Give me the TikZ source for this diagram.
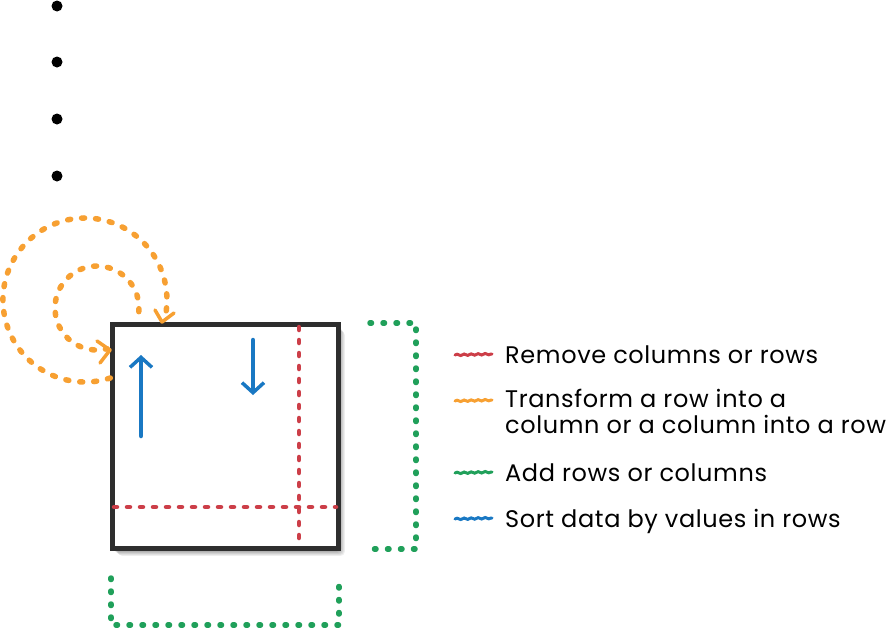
\documentclass[tikz,border=0pt]{standalone}
\usepackage{fontspec}
\setmainfont[LetterSpace=2.6]{Poppins}
\usetikzlibrary{arrows.meta,decorations.pathmorphing}
\definecolor{cred}{RGB}{204,62,72}
\definecolor{corange}{RGB}{247,160,50}
\definecolor{cgreen}{RGB}{32,160,90}
\definecolor{cblue}{RGB}{25,120,195}
\tikzset{
  bullet/.style={circle,fill=black,inner sep=0pt,minimum size=11pt},
  gridbox/.style={draw=black!82,line width=5pt,fill=white,minimum width=226pt,minimum height=224pt,inner sep=0pt},
  shadowbox/.style={fill=black,opacity=0.06,rounded corners=4pt},
  reddash/.style={cred,line width=4.5pt,line cap=round,dash pattern=on 3pt off 10pt},
  orangedash/.style={corange,line width=5.5pt,line cap=round,dash pattern=on 3pt off 11pt},
  greendash/.style={cgreen,line width=5.5pt,line cap=round,dash pattern=on 1.5pt off 11.5pt},
  orangehead/.style={corange,line width=3.5pt,line cap=round,line join=round},
  bluearrow/.style={cblue,line width=4.5pt,line cap=round,-{Straight Barb[length=10pt,width=22pt,line width=3.5pt]}},
  legline/.style={line width=3pt,line cap=round,decorate,decoration={snake,amplitude=0.7pt,segment length=7pt}},
  legtext/.style={inner sep=0pt,font=\fontsize{24}{26}\selectfont,align=left}
}
\begin{document}
\begin{tikzpicture}[x=1pt,y=-1pt]
\useasboundingbox (0,0) rectangle (889,629);
% bullets
\node[bullet] (b1) at (57,6) {};
\node[bullet] (b2) at (57,62) {};
\node[bullet] (b3) at (57,119) {};
\node[bullet] (b4) at (57,176) {};
% shadow of grid
\foreach \d in {1,2,3,4,5,6}{
  \fill[shadowbox] (112+\d,325+\d) rectangle (340+\d*0.8,551+\d*0.8);
}
% main grid
\node[gridbox] (g) at (225,436) {};
% red dashed lines
\coordinate (rv1) at (299,327);
\coordinate (rv2) at (299,548);
\coordinate (rh1) at (114,507);
\coordinate (rh2) at (336,507);
\draw[reddash] (rv1) -- (rv2);
\draw[reddash] (rh1) -- (rh2);
% blue arrows
\coordinate (ua1) at (141,436);
\coordinate (ua2) at (141,355);
\coordinate (da1) at (253,340);
\coordinate (da2) at (253,395);
\draw[bluearrow] (ua1) -- (ua2);
\draw[bluearrow] (da1) -- (da2);
% orange arcs
\coordinate (oo) at (110.3,378);
\draw[orangedash] (oo) arc[start angle=72,end angle=371,radius=82];
\coordinate (oi) at (138.8,311.7);
\draw[orangedash] (oi) arc[start angle=5,end angle=-284,radius=42];
% arrow heads
\coordinate (ot) at (162,322);
\draw[orangehead] (155,310) -- (ot) -- (174,313);
\coordinate (it) at (110,350);
\draw[orangehead] (97,341) -- (it) -- (100,363);
% green brackets
\coordinate (gr1) at (370,323);
\coordinate (gr2) at (416,323);
\coordinate (gr3) at (416,549);
\coordinate (gr4) at (370,549);
\draw[greendash] (gr1) -- (gr2) -- (gr3) -- (gr4);
\coordinate (gb1) at (111,578);
\coordinate (gb2) at (111,625);
\coordinate (gb3) at (339,625);
\coordinate (gb4) at (339,578);
\draw[greendash] (gb1) -- (gb2) -- (gb3) -- (gb4);
% legend
\draw[legline,cred] (455,355) -- (492,354);
\node[legtext,anchor=base west] (l1) at (505,363) {Remove columns or rows};
\draw[legline,corange] (455,401) -- (492,400);
\node[legtext,anchor=north west] (l2) at (505,389) {Transform a row into a\\column or a column into a row};
\draw[legline,cgreen] (455,473) -- (492,472);
\node[legtext,anchor=base west] (l3) at (505,481) {Add rows or columns};
\draw[legline,cblue] (455,519) -- (492,518);
\node[legtext,anchor=base west] (l4) at (505,527) {Sort data by values in rows};
\end{tikzpicture}
\end{document}
